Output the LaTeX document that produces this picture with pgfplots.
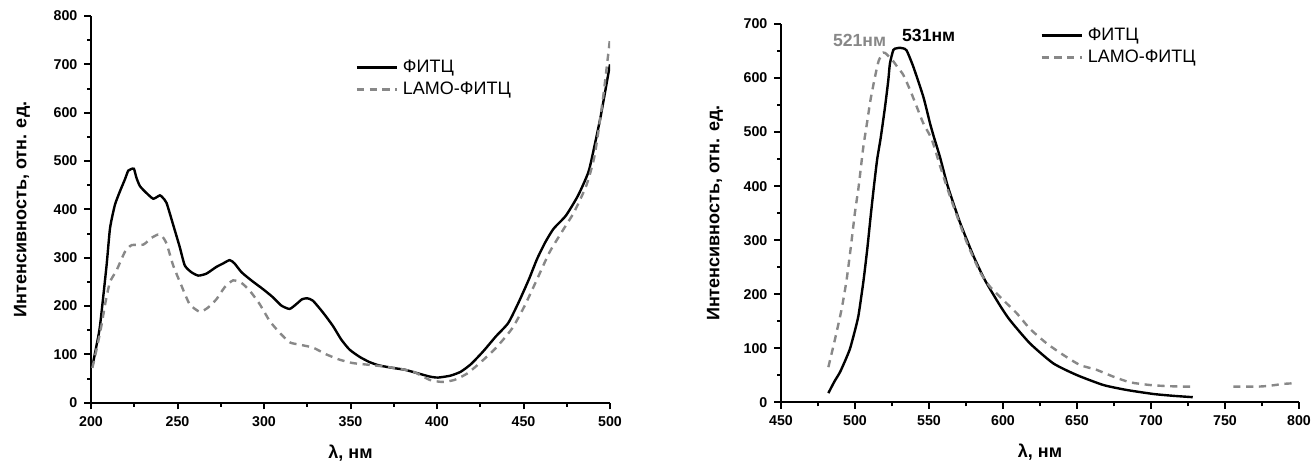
\documentclass[border=0pt]{standalone}
\usepackage{fontspec}
\setmainfont{Liberation Sans}
\usepackage{pgfplots}
\pgfplotsset{compat=1.18}
\definecolor{lamo}{HTML}{888888}

\pgfplotsset{
  spec/.style={
    scale only axis,
    axis lines*=left,
    axis line style={line width=1.1pt},
    tick align=outside,
    major tick length=3.3pt, minor tick length=2pt,
    every tick/.style={black, line width=1pt},
    minor x tick num=1, minor y tick num=1,
    /pgf/number format/assume math mode=true,
    tick label style={font=\bfseries\fontsize{7.1}{8}\selectfont},
    label style={font=\bfseries\fontsize{9}{10}\selectfont},
    xlabel={λ, нм}, ylabel={Интенсивность, отн. ед.},
    legend style={draw=none, fill=none, inner sep=0pt,
      font=\fontsize{9}{10}\selectfont,
      nodes={inner sep=0pt, text height=6.6pt, text depth=1.9pt},
      row sep=2.5pt, column sep=2.5pt},
    legend cell align=left,
    legend image code/.code={\draw[##1] (0pt,0pt) -- (20pt,0pt);},
  },
  fitc/.style={black, line width=1.2pt, smooth, tension=0.35},
  lamofitc/.style={lamo, line width=1.2pt, smooth, tension=0.35, dash pattern=on 3.6pt off 2.8pt},
}

\begin{document}
\begin{tikzpicture}
\useasboundingbox (0,0) rectangle (655.5pt,230.5pt);

% absorption
\begin{axis}[spec,
  at={(45.5pt,29.15pt)}, anchor=south west,
  width=259.5pt, height=193.35pt,
  xmin=200, xmax=500, ymin=0, ymax=800,
  xtick={200,250,...,500}, ytick={0,100,...,800},
  xlabel style={at={(axis description cs:0.5,-0.1293)}, anchor=center},
  ylabel style={at={(axis description cs:-0.133,0.5)}, anchor=center},
  legend style={at={(axis description cs:0.509,0.838)}, anchor=west},
]
\addplot[fitc] coordinates {
(200.8,75)(203,115)(205.2,159)(209,284)(211,361)(213.8,409)(216.7,437)(219.6,462)
(221.5,480)(223,483)(224.8,484)(226.3,465)(228.3,448)(232,434)(236,422)(239.8,429)
(241.5,424)(243.7,413)(247.5,368)(251.3,322)(254.2,284)(258,270)(262,263)(266.7,267)
(272.5,281)(276.3,288)(280.2,295)(283,288)(287,270)(292.7,253)(299.4,235)(305.2,218)
(310,201)(314.8,194)(318.7,204)(322,214)(325,216)(328.3,211)(334,187)(339.8,159)
(344.6,131)(349.4,110)(355.2,95)(361,84)(366.7,77)(374.4,72)(381.6,68)(388.7,61)
(395.9,54)(400.6,52)(407.8,56)(413.7,64)(419.7,80)(426.9,107)(434,137)(441.2,165)
(447.1,207)(453.1,255)(457.8,297)(462.6,332)(467.4,360)(474.5,387)(481.6,429)
(487.6,478)(491.2,534)(494.8,596)(500,700)};
\addlegendentry{ФИТЦ}
\addplot[lamofitc] coordinates {
(200.8,72)(203.5,115)(206,159)(208.5,210)(211,250)(214.8,274)(219.6,312)(223.5,326)
(230.2,327)(235,341)(238.8,348)(241,345)(243.7,329)(247.5,284)(252.3,242)(257,204)
(262.9,188)(267.7,197)(272.5,214)(277.3,239)(282.1,253)(286.9,248)(291.7,232)
(297.5,204)(303.3,169)(309,145)(314.8,125)(320.6,120)(328.3,114)(336,100)(343.7,89)
(351.3,82)(359,79)(366.7,76)(377,71)(386.4,64)(395.9,47)(403,43)(410,47)(417.3,60)
(424.4,81)(434,113)(443.5,154)(450.6,200)(457.8,255)(465,311)(472.1,353)(479.2,394)
(486.4,450)(491.2,513)(496,631)(500,753)};
\addlegendentry{LAMO-ФИТЦ}
\end{axis}

% fluorescence
\begin{axis}[spec,
  at={(390.5pt,29.35pt)}, anchor=south west,
  width=259pt, height=189.15pt,
  xmin=450, xmax=800, ymin=0, ymax=700,
  xtick={450,500,...,800}, ytick={0,100,...,700},
  unbounded coords=jump, clip=false,
  xlabel style={at={(axis description cs:0.5,-0.133)}, anchor=center},
  ylabel style={at={(axis description cs:-0.1274,0.5)}, anchor=center},
  legend style={at={(axis description cs:0.5,0.941)}, anchor=west},
]
\addplot[fitc] coordinates {
(482,17)(486,38)(489.9,56)(493.5,78)(496.6,99)(499.5,128)(502.3,160)(505.6,222)
(508.3,284)(510.6,345)(512.8,400)(515,450)(517.4,490)(520.3,547)(522.5,596)(523.6,627)
(525.9,652)(528,655)(530.4,656)(532.5,655)(534.9,651)(539.4,621)(546.2,565)(550.7,516)
(553.4,490)(557.4,454)(561.9,407)(564.2,387)(570.9,333)(580,271)(587.8,226)(598,179)
(604.7,152)(618.2,109)(634,72)(649.8,50.5)(667.8,32)(683.6,22.8)(701.6,15.4)(715,12)
(728.2,9.5)};
\addlegendentry{ФИТЦ}
\addplot[lamofitc] coordinates {
(482,65)(486.5,117)(491,173)(494.4,228)(497.3,290)(500,352)(502.5,400)(505.5,470)
(508,515)(510.5,560)(513.5,602)(516,632)(519.1,647)(521,645)(523.5,638)(525.9,631)
(528.5,621)(532.6,606)(537.2,578)(541.7,547)(546.2,516)(551.8,487)(557.4,438)(562,399)
(566.4,364)(575.5,296)(584.5,241)(591.2,214)(600.2,189)(609.2,165)(618.2,136)
(629.5,109)(640.8,87.5)(652,69)(663.3,60)(674.6,47.4)(685.8,37)(699.3,32)(710.6,30)
(722,29)(728,29)(740,nan)(755.6,29)(765.8,29)(772,29)(778,30)(784,32)(789,34)(795,35)};
\addlegendentry{LAMO-ФИТЦ}
\node[anchor=west, inner sep=0pt, text=lamo, font=\bfseries\fontsize{8.8}{10}\selectfont]
  at (axis cs:484.9,670) {521нм};
\node[anchor=west, inner sep=0pt, font=\bfseries\fontsize{8.8}{10}\selectfont]
  at (axis cs:531.6,678) {531нм};
\end{axis}
\end{tikzpicture}
\end{document}
